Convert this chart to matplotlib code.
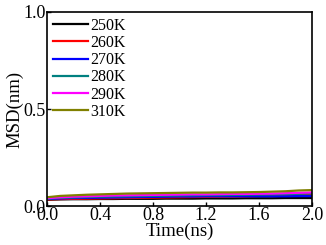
import matplotlib
matplotlib.use("Agg")
import matplotlib.pyplot as plt
from matplotlib.ticker import FormatStrFormatter

plt.rcParams['font.family'] = ['Liberation Serif', 'DejaVu Serif']

# Time (ns)
time_ns = [0.0, 0.1, 0.2, 0.3, 0.4, 0.5, 0.6, 0.7, 0.8, 0.9, 1.0,
           1.1, 1.2, 1.3, 1.4, 1.5, 1.6, 1.7, 1.8, 1.9, 2.0]

msd_250 = [0.032, 0.034, 0.035, 0.035, 0.036, 0.036, 0.037, 0.037, 0.037, 0.038, 0.038,
           0.038, 0.039, 0.039, 0.039, 0.040, 0.040, 0.040, 0.041, 0.041, 0.041]
msd_260 = [0.034, 0.036, 0.037, 0.038, 0.039, 0.040, 0.041, 0.042, 0.043, 0.044, 0.045,
           0.046, 0.047, 0.048, 0.049, 0.050, 0.052, 0.053, 0.055, 0.057, 0.060]
msd_270 = [0.036, 0.039, 0.041, 0.042, 0.043, 0.044, 0.045, 0.046, 0.047, 0.048, 0.049,
           0.049, 0.050, 0.050, 0.050, 0.050, 0.050, 0.050, 0.050, 0.051, 0.051]
msd_280 = [0.038, 0.042, 0.044, 0.046, 0.048, 0.049, 0.050, 0.051, 0.052, 0.053, 0.054,
           0.055, 0.056, 0.056, 0.057, 0.058, 0.059, 0.060, 0.061, 0.063, 0.065]
msd_290 = [0.040, 0.045, 0.048, 0.050, 0.052, 0.054, 0.055, 0.056, 0.057, 0.058, 0.059,
           0.060, 0.060, 0.061, 0.062, 0.062, 0.063, 0.064, 0.066, 0.068, 0.070]
msd_310 = [0.045, 0.052, 0.055, 0.058, 0.060, 0.062, 0.064, 0.065, 0.066, 0.067, 0.068,
           0.069, 0.069, 0.070, 0.070, 0.071, 0.072, 0.074, 0.076, 0.080, 0.082]

labels = ['250K', '260K', '270K', '280K', '290K', '310K']
colors = ['#000000', '#ff0000', '#0000ff', '#008080', '#ff00ff', '#808000']
series = [msd_250, msd_260, msd_270, msd_280, msd_290, msd_310]

fig = plt.figure(figsize=(3.26, 2.45), dpi=100)
ax = fig.add_axes([47 / 326, 39 / 245, 265 / 326, 194 / 245])

for vals, lab, col in zip(series, labels, colors):
    ax.plot(time_ns, vals, color=col, linewidth=1.6, label=lab)

ax.set_xlim(0, 2.0)
ax.set_ylim(0, 1.0)
ax.set_xticks([0.0, 0.4, 0.8, 1.2, 1.6, 2.0])
ax.set_yticks([0.0, 0.5, 1.0])
ax.xaxis.set_major_formatter(FormatStrFormatter('%.1f'))
ax.yaxis.set_major_formatter(FormatStrFormatter('%.1f'))
ax.tick_params(direction='in', labelsize=13, length=3, width=1, pad=1)
for s in ax.spines.values():
    s.set_linewidth(1.2)

ax.set_xlabel('Time(ns)', fontsize=13.5, labelpad=-1)
ax.set_ylabel('MSD(nm)', fontsize=13.5, labelpad=0)

ax.legend(loc='upper left', frameon=False, fontsize=11.5, handlelength=2.2,
          handletextpad=0.15, labelspacing=0.08, borderaxespad=0.1,
          borderpad=0.25)

fig.savefig('out.png', dpi=100)
